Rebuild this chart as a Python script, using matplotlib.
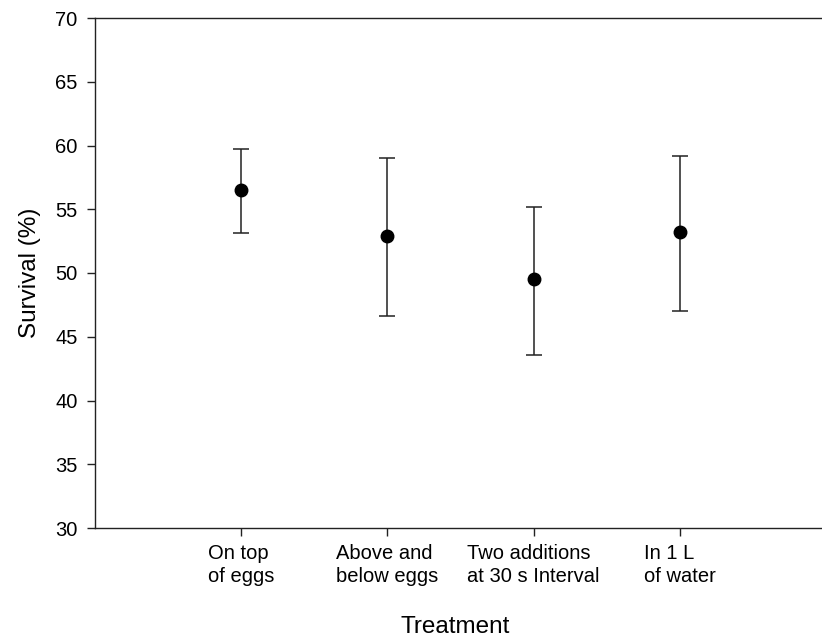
import matplotlib
matplotlib.use("Agg")
import matplotlib.pyplot as plt
import numpy as np

categories = ["On top\nof eggs", "Above and\nbelow eggs", "Two additions\nat 30 s Interval", "In 1 L\nof water"]
means = [56.5, 52.9, 49.5, 53.2]
upper = [59.7, 59.0, 55.2, 59.2]
lower = [53.1, 46.6, 43.6, 47.0]

plt.rcParams['font.family'] = ['Liberation Sans', 'DejaVu Sans']

fig = plt.figure(figsize=(8.22, 6.39), dpi=100)
ax = fig.add_axes([95/822, 111/639, (826-95)/822, (528-18)/639])

x = np.arange(1, len(means) + 1)
m = np.array(means)
yerr = np.vstack([m - np.array(lower), np.array(upper) - m])
ax.errorbar(x, m, yerr=yerr, fmt='o', color='black', ecolor='#222222',
            elinewidth=1.1, capsize=5.8, capthick=1.1, markersize=9)

ax.set_xlim(0, 5)
ax.set_ylim(30, 70)
ax.set_yticks(np.arange(30, 71, 5))
ax.set_xticks(x)
ax.set_xticklabels(categories, multialignment='left', linespacing=1.25)
ax.tick_params(axis='both', direction='out', length=5.5, width=1.0, labelsize=14.5, color='#222222')
ax.tick_params(axis='y', pad=7)
ax.tick_params(axis='x', pad=6)
for s in ax.spines.values():
    s.set_linewidth(1.0)
    s.set_color('#222222')

ax.set_xlabel("Treatment", fontsize=17.5)
ax.set_ylabel("Survival (%)", fontsize=17.5, labelpad=10)
ax.xaxis.set_label_coords((455 - 95) / (826 - 95), -0.172)

fig.savefig("out.png", dpi=100)
